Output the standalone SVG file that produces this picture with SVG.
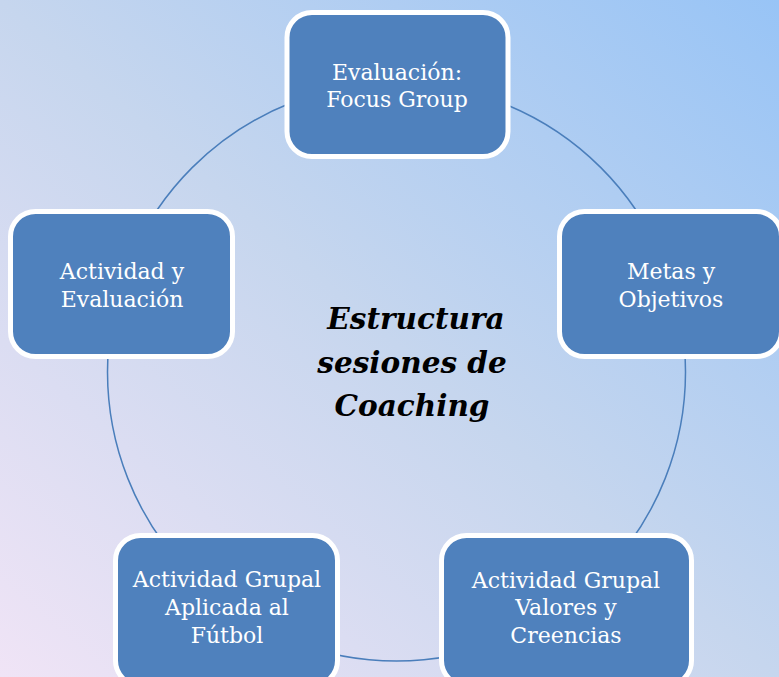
<svg xmlns="http://www.w3.org/2000/svg" width="779" height="677" viewBox="0 0 779 677">
<defs>
<linearGradient id="bg" x1="0" y1="1" x2="1" y2="0">
<stop offset="0" stop-color="#f0e4f6"/>
<stop offset="0.5" stop-color="#c6d6ee"/>
<stop offset="1" stop-color="#98c4f6"/>
</linearGradient>
<style>
.box{fill:#4f81bd;stroke:#ffffff;stroke-width:5}
.lbl{fill:#ffffff;font-family:"DejaVu Serif","Liberation Serif",serif;font-size:22px;text-anchor:middle}
.conn{fill:none;stroke:#4a7ebb;stroke-width:1.5}
.title{fill:#000000;font-family:"DejaVu Serif","Liberation Serif",serif;font-size:29.5px;font-weight:bold;font-style:italic;text-anchor:middle}
</style>
</defs>
<rect x="0" y="0" width="779" height="677" fill="url(#bg)"/>
<g id="connectors">
<circle class="conn" cx="396.5" cy="372" r="289"/>
</g>
<g id="center">
<text class="title" x="416" y="329">Estructura</text>
<text class="title" x="412" y="373">sesiones de</text>
<text class="title" x="412" y="416">Coaching</text>
</g>
<g id="node-evaluacion">
<rect class="box" x="287" y="12.5" width="221" height="144" rx="25"/>
<text class="lbl" x="397" y="80">Evaluación:</text>
<text class="lbl" x="397" y="107">Focus Group</text>
</g>
<g id="node-metas">
<rect class="box" x="559.5" y="211.5" width="222" height="145" rx="25"/>
<text class="lbl" x="671" y="279">Metas y</text>
<text class="lbl" x="671" y="307">Objetivos</text>
</g>
<g id="node-valores">
<rect class="box" x="441.5" y="535.5" width="250" height="150" rx="25"/>
<text class="lbl" x="566" y="588">Actividad Grupal</text>
<text class="lbl" x="566" y="615">Valores y</text>
<text class="lbl" x="566" y="643">Creencias</text>
</g>
<g id="node-futbol">
<rect class="box" x="115.5" y="535.5" width="222" height="150" rx="25"/>
<text class="lbl" x="227" y="587">Actividad Grupal</text>
<text class="lbl" x="227" y="615">Aplicada al</text>
<text class="lbl" x="227" y="643">Fútbol</text>
</g>
<g id="node-actividad">
<rect class="box" x="10.5" y="211.5" width="222" height="145" rx="25"/>
<text class="lbl" x="122" y="279">Actividad y</text>
<text class="lbl" x="122" y="307">Evaluación</text>
</g>
</svg>
